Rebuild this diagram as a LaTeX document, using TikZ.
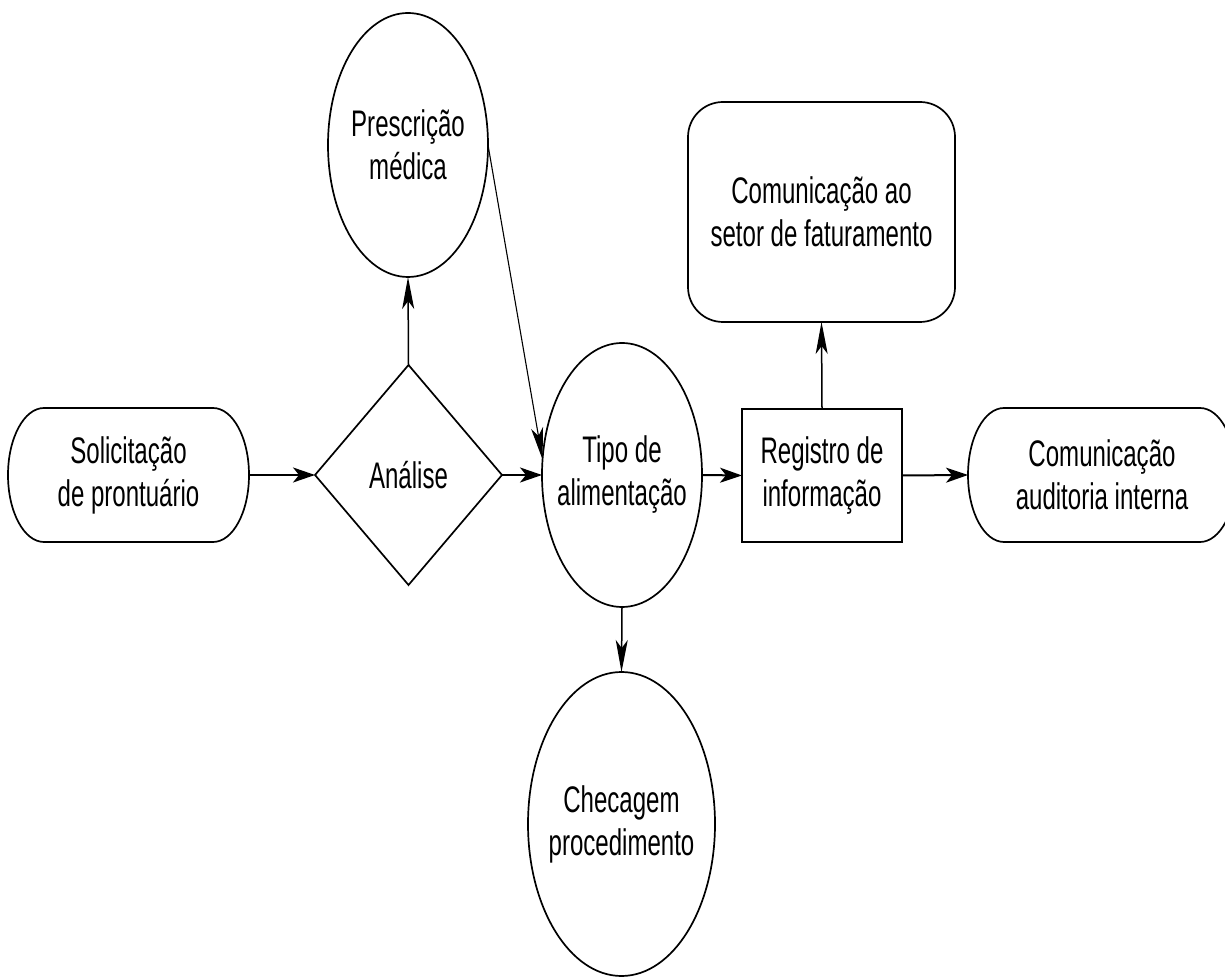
\documentclass[tikz,border=0pt]{standalone}
\usepackage{fontspec}
\setmainfont{Liberation Sans}[FakeStretch=0.65]
\usetikzlibrary{shapes.geometric,arrows.meta}
\begin{document}
\begin{tikzpicture}[x=1pt,y=1pt,
  shp/.style={draw, line width=1.7pt},
  txt/.style={font=\fontsize{37pt}{43pt}\selectfont, align=center, inner sep=0pt},
  bare/.style={inner sep=0pt, outer sep=0pt},
  ellnode/.style={shp, ellipse, bare},
  ha/.style={-{Stealth[length=22pt,width=15pt,inset=6pt]}, line width=2pt},
  va/.style={-{Stealth[length=32pt,width=12pt,inset=8pt]}, line width=1.5pt},
  ]
\useasboundingbox (0,0) rectangle (1225,977);
% terminal shapes
\node[txt, bare, minimum width=241pt, minimum height=134pt] (sol) at (128.5,502) {Solicitação\\de prontuário};
\node[txt, bare, minimum width=268pt, minimum height=134pt] (aud) at (1102,502) {Comunicação\\auditoria interna};
\foreach \n in {sol,aud}{
  \draw[shp] ([xshift=36pt]\n.north west) -- ([xshift=-36pt]\n.north east)
    arc[start angle=90,end angle=-90,x radius=36pt,y radius=67pt]
    -- ([xshift=36pt]\n.south west)
    arc[start angle=270,end angle=90,x radius=36pt,y radius=67pt] -- cycle;
}
% decision
\node[shp, diamond, bare, txt, minimum width=187pt, minimum height=220pt] (ana) at (408.5,502) {Análise};
% ellipses
\node[ellnode, minimum width=160pt, minimum height=264pt,
  label={[txt]center:Prescrição\\médica}] (pre) at (408,832) {};
\node[ellnode, minimum width=160pt, minimum height=264pt,
  label={[txt]center:Tipo de\\alimentação}] (tipo) at (622,502) {};
\node[ellnode, minimum width=187pt, minimum height=304pt,
  label={[txt]center:Checagem\\procedimento}] (chk) at (621.5,153) {};
% process boxes
\node[shp, bare, txt, minimum width=160pt, minimum height=133pt] (reg) at (822,501.5) {Registro de\\informação};
\node[shp, bare, txt, rounded corners=35pt, minimum width=267pt, minimum height=220pt] (fat) at (821.5,765) {Comunicação ao\\setor de faturamento};
% connectors
\draw[ha] (sol.east) -- (ana.west);
\draw[va] (ana.north) -- (pre.south);
\draw[ha] (ana.east) -- (tipo.west);
\draw[va, line width=1.1pt] (pre.east) -- (tipo.169);
\draw[ha] (tipo.east) -- (reg.west);
\draw[va] (tipo.south) -- (chk.north);
\draw[va] (reg.north) -- (fat.south);
\draw[ha] (reg.east) -- (aud.west);
\end{tikzpicture}
\end{document}
